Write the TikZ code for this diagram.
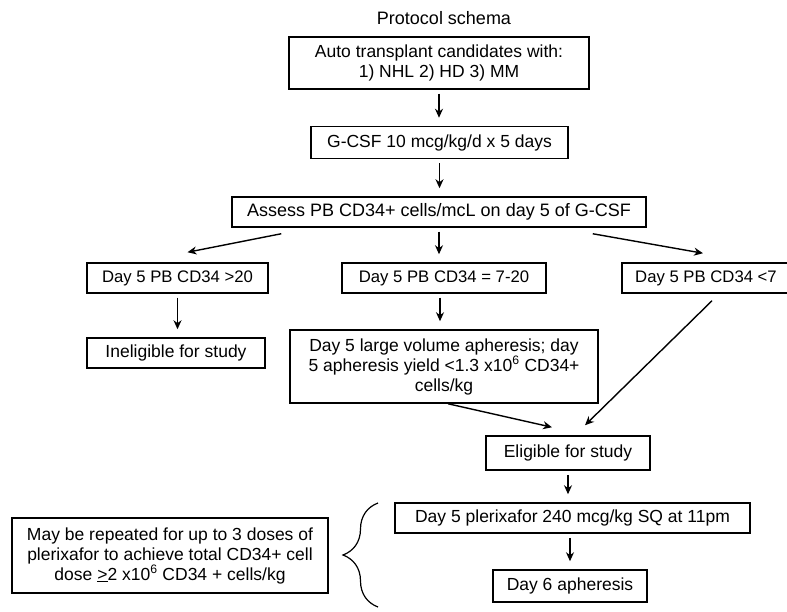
\documentclass[tikz,border=0pt]{standalone}
\usepackage{fontspec}
\setmainfont{Liberation Sans}
\usetikzlibrary{arrows.meta, positioning, calc, decorations.pathreplacing}

\begin{document}
\begin{tikzpicture}[x=1pt, y=1pt,
    box/.style={draw, line width=1.5pt, align=center, inner sep=2pt,
      font=\fontsize{17.5}{20}\selectfont},
    narrowbox/.style={box, font=\fontsize{16.7}{20}\selectfont},
    arr/.style={-{Stealth[length=9pt, width=8pt]}, line width=1.4pt,
      shorten <=4pt, shorten >=8pt},
    diag/.style={-{Stealth[length=9pt, width=8pt]}, line width=1.4pt}]
  \useasboundingbox (0,0) rectangle (787,-612);

  \node[font=\fontsize{18}{20}\selectfont] (title) at (444,-18) {Protocol schema};

  \node[box, minimum width=300pt, minimum height=52pt] (auto) at (439,-63)
    {Auto transplant candidates with:\\1) NHL 2) HD 3) MM};
  \node[box, minimum width=257pt, minimum height=32pt] (gcsf) at (439.5,-142.5)
    {G-CSF 10 mcg/kg/d x 5 days};
  \node[box, font=\fontsize{18}{20}\selectfont, minimum width=414pt, minimum height=30pt] (assess) at (439,-212)
    {Assess PB CD34+ cells/mcL on day 5 of G-CSF};

  \node[narrowbox, minimum width=181pt, minimum height=30pt] (high) at (177.5,-278) {Day 5 PB CD34 >20};
  \node[narrowbox, minimum width=204pt, minimum height=30pt] (mid) at (444,-278) {Day 5 PB CD34 = 7-20};
  \node[narrowbox, minimum width=168pt, minimum height=30pt] (low) at (706,-278) {Day 5 PB CD34 <7};

  \node[box, minimum width=178pt, minimum height=30pt] (inel) at (176,-353) {Ineligible for study};
  \node[box, minimum width=308pt, minimum height=73pt] (lv) at (444,-366.5)
    {Day 5 large volume apheresis; day\\5 apheresis yield <1.3 x10\textsuperscript{6} CD34+\\cells/kg};

  \node[box, minimum width=164pt, minimum height=34pt] (elig) at (568,-453) {Eligible for study};
  \node[box, minimum width=355pt, minimum height=30pt] (plx) at (572.5,-518)
    {Day 5 plerixafor 240 mcg/kg SQ at 11pm};
  \node[box, minimum width=154pt, minimum height=32pt] (apher) at (570,-586) {Day 6 apheresis};

  \node[box, minimum width=316pt, minimum height=75pt] (note) at (170,-555.5)
    {May be repeated for up to 3 doses of\\plerixafor to achieve total CD34+ cell\\dose \underline{>}2 x10\textsuperscript{6} CD34 + cells/kg};

  % main column
  \draw[arr] (auto.south) -- (auto.south |- gcsf.north);
  \draw[arr] (gcsf.south) -- (gcsf.south |- assess.north);
  \draw[arr] (assess.south) -- (assess.south |- mid.north);
  \draw[arr] (high.south) -- (high.south |- inel.north);
  \draw[arr] ([xshift=-4pt]mid.south) -- ([xshift=-4pt]lv.north);
  \draw[arr] (elig.south) -- (elig.south |- plx.north);
  \draw[arr] (apher.north |- plx.south) -- (apher.north);

  % side branches
  \draw[diag] ([shift={(50pt,-6pt)}]assess.south west) -- ([shift={(10pt,10pt)}]high.north);
  \draw[diag] ([shift={(-54pt,-6pt)}]assess.south east) -- ([shift={(-3pt,9pt)}]low.north);
  \draw[diag] ([shift={(6pt,-7pt)}]low.south) -- ([shift={(17pt,10pt)}]elig.north);
  \draw[diag] ([xshift=4pt]lv.south) -- ([shift={(-16pt,8pt)}]elig.north);

  % brace
  \coordinate (bracelow) at (378,-607);
  \coordinate (bracetop) at (378,-503);
  \draw[line width=1.2pt, decorate, decoration={brace, amplitude=35pt}] (bracelow) -- (bracetop);
\end{tikzpicture}
\end{document}
